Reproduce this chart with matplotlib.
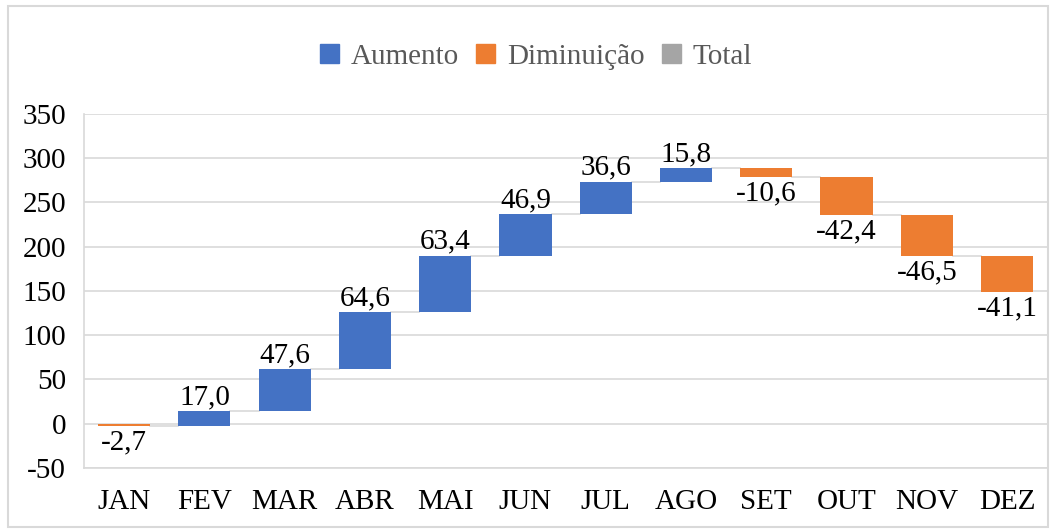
import matplotlib.pyplot as plt
from matplotlib.patches import Patch, Rectangle
import numpy as np

# dados do gráfico de cascata
meses = ["JAN", "FEV", "MAR", "ABR", "MAI", "JUN", "JUL", "AGO", "SET", "OUT", "NOV", "DEZ"]
variacao = [-2.7, 17.0, 47.6, 64.6, 63.4, 46.9, 36.6, 15.8, -10.6, -42.4, -46.5, -41.1]
y_ticks = [-50, 0, 50, 100, 150, 200, 250, 300, 350]

cor_aumento = "#4472C4"
cor_diminuicao = "#ED7D31"
cor_total = "#A5A5A5"

plt.rcParams["font.family"] = ["Liberation Serif", "DejaVu Serif"]
fs = 21

fim = np.cumsum(variacao)
inicio = fim - np.array(variacao)
x = np.arange(len(meses))
largura = 0.65

fig = plt.figure(figsize=(10.55, 5.3), dpi=100)
ax = fig.add_axes([0.0796, 0.117, 0.913, 0.668])

cores = [cor_aumento if v >= 0 else cor_diminuicao for v in variacao]
ax.bar(x, variacao, bottom=inicio, width=largura, color=cores, zorder=3)

# linhas de ligação entre as barras
for i in range(len(meses) - 1):
    ax.plot([x[i] + largura / 2, x[i + 1] - largura / 2], [fim[i], fim[i]],
            color="#D9D9D9", lw=1.2, zorder=2)

# rótulos
for i, v in enumerate(variacao):
    txt = f"{v:.1f}".replace(".", ",")
    if v >= 0:
        ax.text(x[i], fim[i] + 1, txt, ha="center", va="bottom", fontsize=fs, color="#000000")
    else:
        ax.text(x[i], fim[i] - 4, txt, ha="center", va="top", fontsize=fs, color="#000000")

ax.set_xlim(-0.5, len(meses) - 0.5)
ax.set_ylim(-50, 350)
ax.set_yticks(y_ticks)
ax.set_yticklabels([str(t) for t in y_ticks])
ax.set_xticks(x)
ax.set_xticklabels(meses)
ax.tick_params(axis="both", length=0, labelsize=fs, colors="#000000")
ax.tick_params(axis="x", pad=15)
ax.tick_params(axis="y", pad=13)
ax.grid(axis="y", color="#D9D9D9", lw=1.2, zorder=0)
for s in ["top", "right"]:
    ax.spines[s].set_visible(False)
for s in ["left", "bottom"]:
    ax.spines[s].set_color("#D9D9D9")
    ax.spines[s].set_linewidth(1.2)

handles = [Patch(color=cor_aumento, label="Aumento"),
           Patch(color=cor_diminuicao, label="Diminuição"),
           Patch(color=cor_total, label="Total")]
leg = fig.legend(handles=handles, loc="center", bbox_to_anchor=(0.508, 0.893), ncol=3,
                 frameon=False, fontsize=fs, handlelength=0.65, handleheight=0.65,
                 handletextpad=0.4, columnspacing=0.6)
for t in leg.get_texts():
    t.set_color("#595959")

# moldura externa
fig.patches.append(Rectangle((0.008, 0.006), 0.985, 0.982, transform=fig.transFigure,
                             fill=False, edgecolor="#D9D9D9", lw=1.5))

fig.savefig("out.png", dpi=100)
